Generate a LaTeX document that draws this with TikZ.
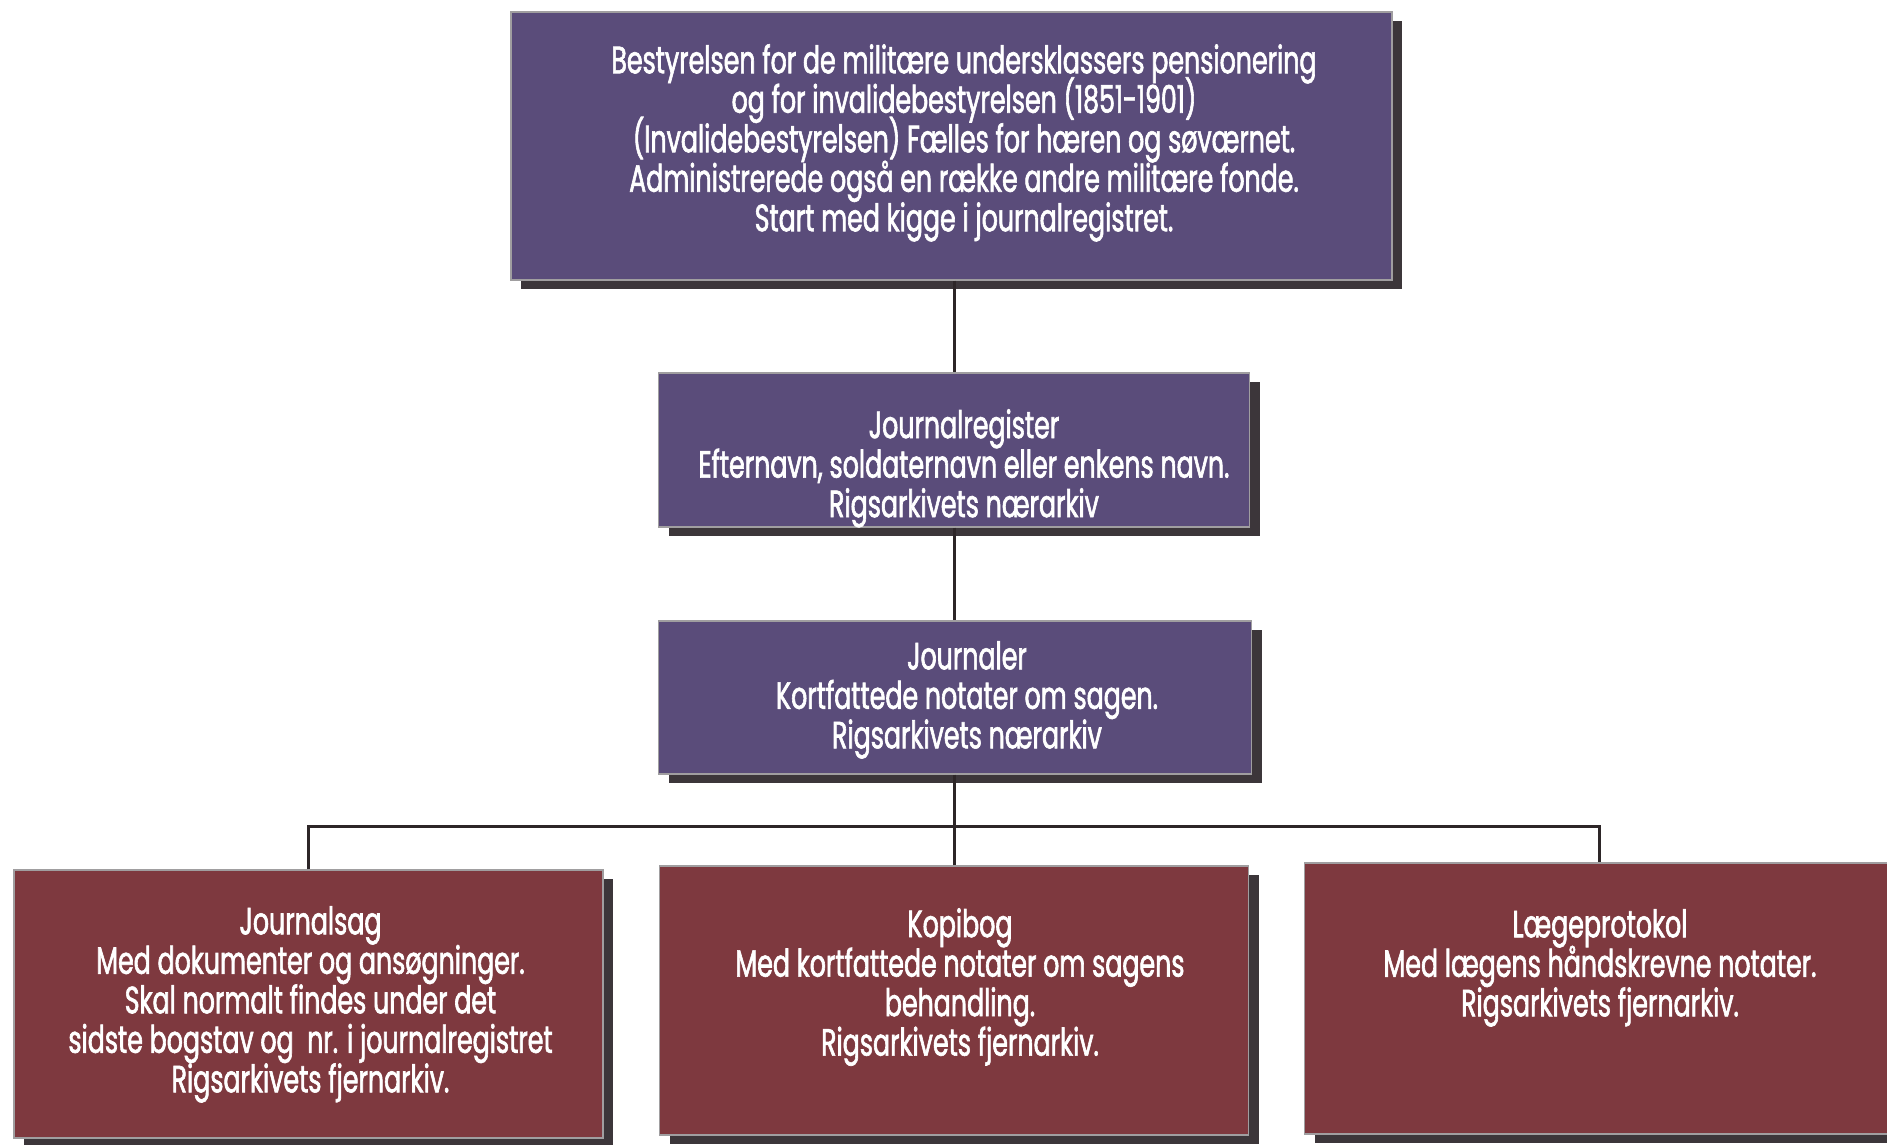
\documentclass[tikz,border=0pt]{standalone}
\usepackage{fontspec}
\setmainfont[FakeStretch=0.665,FakeBold=1.6]{Poppins}
\usetikzlibrary{shadows}
\definecolor{purp}{RGB}{90,76,122}
\definecolor{wine}{RGB}{126,57,63}
\definecolor{shad}{RGB}{60,54,58}
\definecolor{edgec}{RGB}{160,158,160}
\definecolor{linec}{RGB}{45,38,40}
\newcommand\tightlines{\lineskiplimit=-100pt\relax\lineskip=0pt\relax}
\begin{document}
\begin{tikzpicture}[x=1pt,y=1pt,
  box/.style={draw=edgec, line width=1.2pt, inner sep=0pt,
    drop shadow={shadow xshift=10pt, shadow yshift=-9pt, fill=shad, opacity=1}},
  pbox/.style={box, fill=purp},
  rbox/.style={box, fill=wine},
  txt/.style={text=white, align=center, anchor=north, inner sep=0pt,
    font=\fontsize{38}{39.5}\selectfont\tightlines},
  conn/.style={draw=linec, line width=3pt}]
\useasboundingbox[fill=white] (0,0) rectangle (1887,-1144);

% boxes
\node[pbox, minimum width=881pt, minimum height=268pt] (top)  at (951.5,-146) {};
\node[pbox, minimum width=591pt, minimum height=154pt] (reg)  at (954,-450) {};
\node[pbox, minimum width=593pt, minimum height=153pt] (jour) at (955,-697.5) {};
\node[rbox, minimum width=589pt, minimum height=268pt] (sag)  at (308.5,-1004) {};
\node[rbox, minimum width=589pt, minimum height=269pt] (kopi) at (954,-1000.5) {};
\node[rbox, minimum width=589pt, minimum height=271pt] (laege) at (1599,-998.5) {};

% connectors
\coordinate (bus) at (954,-826);
\draw[conn] (top.south -| reg.north) -- (reg.north);
\draw[conn] (reg.south) -- (reg.south |- jour.north);
\draw[conn] (jour.south -| reg.south) -- (reg.south |- bus);
\draw[conn] (sag.north) -- (sag.north |- bus) -- (laege.north |- bus) -- (laege.north);
\draw[conn] (kopi.north) -- (kopi.north |- bus);

% texts
\node[txt] (t1) at (964,-44) {Bestyrelsen for de militære undersklassers pensionering\\og for invalidebestyrelsen (1851-1901)\\(Invalidebestyrelsen) Fælles for hæren og søværnet.\\Administrerede også en række andre militære fonde.\\Start med kigge i journalregistret.};
\node[txt] (t2) at (964,-409) {Journalregister\\Efternavn, soldaternavn eller enkens navn.\\Rigsarkivets nærarkiv};
\node[txt] (t3) at (967,-641) {Journaler\\Kortfattede notater om sagen.\\Rigsarkivets nærarkiv};
\node[txt] (t4) at (310.5,-906) {Journalsag\\Med dokumenter og ansøgninger.\\Skal normalt findes under det\\sidste bogstav og\ \ nr. i journalregistret\\Rigsarkivets fjernarkiv.};
\node[txt] (t5) at (960,-908) {Kopibog\\Med kortfattede notater om sagens\\behandling.\\Rigsarkivets fjernarkiv.};
\node[txt] (t6) at (1600,-909) {Lægeprotokol\\Med lægens håndskrevne notater.\\Rigsarkivets fjernarkiv.};
\end{tikzpicture}
\end{document}
